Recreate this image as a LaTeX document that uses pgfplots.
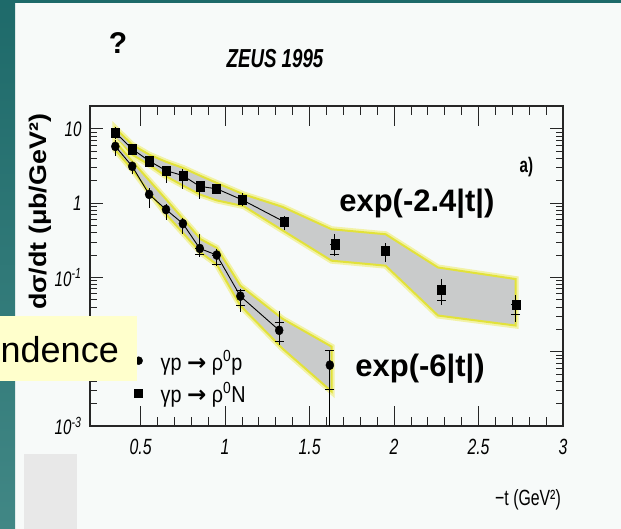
\documentclass[border=0pt]{standalone}
\usepackage{pgfplots}
\pgfplotsset{compat=1.18}
\usepackage{pgfplotstable}
\usepackage{fontspec}
\setmainfont{Liberation Sans}
\newfontfamily\narrow[FakeStretch=0.72]{Liberation Sans}
\newfontfamily\legfont[FakeStretch=0.86]{Liberation Sans}
\newfontfamily\wide[FakeStretch=1.12]{Liberation Sans}
\newfontfamily\dejavu{DejaVu Sans}

\definecolor{tealA}{HTML}{1E6A6A}
\definecolor{tealB}{HTML}{418785}
\definecolor{slidebg}{HTML}{F7FAF9}
\definecolor{bandfill}{HTML}{C9CBCB}
\definecolor{bandedge}{HTML}{E2E23A}
\definecolor{notebox}{HTML}{FFFFCC}

% gamma p -> rho0 N (squares): t, dsigma/dt, total error up/down
\pgfplotstableread{
x    y      ep      em
0.35 8.9    1.8     1.5
0.45 5.35   0.5     0.5
0.55 3.7    0.35    0.35
0.65 2.74   0.45    0.9
0.75 2.35   0.55    0.8
0.85 1.68   0.2     0.55
0.95 1.56   0.25    0.22
1.10 1.11   0.27    0.2
1.35 0.56   0.11    0.12
1.65 0.28   0.10    0.085
1.95 0.228  0.066   0.068
2.28 0.068  0.027   0.026
2.72 0.0427 0.0153  0.0177
}\rhoN
% statistical error caps, squares
\pgfplotstableread{
x    y      ep     em
1.65 0.28   0      0.075
2.28 0.068  0      0.019
2.72 0.0427 0      0.0112
}\rhoNstat
% gamma p -> rho0 p (circles)
\pgfplotstableread{
x    y      ep      em
0.35 5.8    1.3     1.55
0.45 3.13   0.5     0.7
0.55 1.31   0.3     0.44
0.65 0.82   0.14    0.22
0.75 0.53   0.11    0.15
0.85 0.245  0.135   0.058
0.95 0.20   0.04    0.056
1.09 0.056  0.0138  0.022
1.32 0.0194 0.0164  0.0072
1.62 0.0066 0.0039  0.0061
}\rhoP
% statistical error caps, circles
\pgfplotstableread{
x    y      ep      em
0.85 0.245  0       0.04
0.95 0.20   0       0.05
1.09 0.056  0.0107  0.0142
1.32 0.0194 0.0057  0.0057
1.62 0.0066 0.0039  0.00346
}\rhoPstat

\begin{document}
\begin{tikzpicture}
\path[use as bounding box] (0pt,0pt) rectangle (621pt,529pt);
\clip (0pt,0pt) rectangle (621pt,529pt);
\fill[slidebg] (0pt,0pt) rectangle (621pt,529pt);
\shade[top color=tealA, bottom color=tealB] (0pt,0pt) rectangle (15pt,529pt);
\fill[tealA] (0pt,526pt) rectangle (621pt,529pt);
\fill[gray!18] (24pt,0pt) rectangle (77pt,75pt);

\begin{axis}[
  at={(90pt,103pt)}, anchor=south west,
  scale only axis, width=473pt, height=320pt,
  ymode=log,
  xmin=0.2, xmax=3, ymin=1e-3, ymax=20.3,
  axis line style={line width=1.1pt, black!85},
  xtick={0.5,1,1.5,2,2.5,3},
  xticklabels={0.5,1,1.5,2,2.5,3},
  minor x tick num=4,
  ytick={0.001,0.01,0.1,1,10},
  yticklabels={10\textsuperscript{-3},{},10\textsuperscript{-1},1,10},
  xtick pos=both, ytick pos=both,
  xticklabel pos=lower, yticklabel pos=left,
  xtick style={line width=0.9pt, black!85, /pgfplots/major tick length=20pt, /pgfplots/minor tick length=9pt},
  ytick style={line width=0.9pt, black!85, /pgfplots/major tick length=13pt, /pgfplots/minor tick length=7pt},
  xticklabel style={font=\narrow\itshape\fontsize{22}{22}\selectfont, yshift=-10pt},
  yticklabel style={font=\narrow\itshape\fontsize{21}{21}\selectfont, xshift=-5pt},
  ylabel={dσ/dt (μb/GeV²)},
  ylabel style={at={(axis description cs:-0.106,0.669)}, anchor=center,
    font=\wide\bfseries\fontsize{24}{24}\selectfont},
  xlabel={−t (GeV²)},
  xlabel style={at={(axis description cs:0.926,-0.231)}, anchor=center,
    font=\narrow\fontsize{22}{22}\selectfont},
  legend style={at={(axis description cs:0.094,0.245)}, anchor=north west,
    draw=none, fill=none, inner sep=0pt, row sep=7pt, column sep=16pt,
    font=\legfont\fontsize{23}{25}\selectfont},
  legend cell align=left,
]
% systematic bands
\addplot[draw=bandedge!45, line width=6pt, forget plot] coordinates {
 (0.35,10.2)(0.45,6.1)(0.55,4.5)(0.65,3.6)(0.75,2.98)(0.85,2.35)(0.95,1.87)
 (1.11,1.31)(1.34,0.89)(1.63,0.445)(1.95,0.381)(2.26,0.136)(2.72,0.095)
 (2.72,0.0225)(2.26,0.0307)(1.95,0.144)(1.63,0.168)(1.34,0.43)(1.11,0.91)
 (0.95,1.09)(0.85,1.31)(0.75,1.73)(0.65,2.3)(0.55,3.3)(0.45,4.5)(0.35,7.5)} -- cycle;
\addplot[fill=bandfill, draw=bandedge, line width=2pt, forget plot] coordinates {
 (0.35,10.2)(0.45,6.1)(0.55,4.5)(0.65,3.6)(0.75,2.98)(0.85,2.35)(0.95,1.87)
 (1.11,1.31)(1.34,0.89)(1.63,0.445)(1.95,0.381)(2.26,0.136)(2.72,0.095)
 (2.72,0.0225)(2.26,0.0307)(1.95,0.144)(1.63,0.168)(1.34,0.43)(1.11,0.91)
 (0.95,1.09)(0.85,1.31)(0.75,1.73)(0.65,2.3)(0.55,3.3)(0.45,4.5)(0.35,7.5)} -- cycle;
\addplot[draw=bandedge!45, line width=6pt, forget plot] coordinates {
 (0.35,6.7)(0.45,3.65)(0.66,1.06)(0.855,0.327)(0.95,0.25)(1.09,0.0775)(1.34,0.0277)(1.63,0.0117)
 (1.63,0.00292)(1.34,0.011)(1.09,0.0418)(0.95,0.15)(0.855,0.217)(0.66,0.67)(0.45,2.83)(0.35,5.2)} -- cycle;
\addplot[fill=bandfill, draw=bandedge, line width=2pt, forget plot] coordinates {
 (0.35,6.7)(0.45,3.65)(0.66,1.06)(0.855,0.327)(0.95,0.25)(1.09,0.0775)(1.34,0.0277)(1.63,0.0117)
 (1.63,0.00292)(1.34,0.011)(1.09,0.0418)(0.95,0.15)(0.855,0.217)(0.66,0.67)(0.45,2.83)(0.35,5.2)} -- cycle;

% connecting lines
\addplot[black, line width=0.9pt, mark=none, forget plot]
  table[x=x, y=y, skip coords between index={9}{13}] {\rhoN};
\addplot[black, line width=0.9pt, mark=none, forget plot]
  table[x=x, y=y, skip coords between index={9}{10}] {\rhoP};

% data points with total errors
\addplot[only marks, mark=square*, mark size=4pt, black,
  mark options={yscale=1.2}, forget plot,
  error bars/.cd, y dir=both, y explicit, error mark=none,
  error bar style={line width=1pt, black}]
  table[x=x, y=y, y error plus=ep, y error minus=em] {\rhoN};
\addplot[only marks, mark=*, mark size=4pt, black,
  mark options={yscale=1.15}, forget plot,
  error bars/.cd, y dir=both, y explicit, error mark=none,
  error bar style={line width=1pt, black}]
  table[x=x, y=y, y error plus=ep, y error minus=em] {\rhoP};

% statistical error caps
\addplot[only marks, mark=none, forget plot,
  error bars/.cd, y dir=both, y explicit,
  error bar style={line width=1pt, black},
  error mark options={rotate=90, mark size=4.5pt, line width=1pt, black}]
  table[x=x, y=y, y error plus=ep, y error minus=em] {\rhoNstat};
\addplot[only marks, mark=none, forget plot,
  error bars/.cd, y dir=both, y explicit,
  error bar style={line width=1pt, black},
  error mark options={rotate=90, mark size=4.5pt, line width=1pt, black}]
  table[x=x, y=y, y error plus=ep, y error minus=em] {\rhoPstat};

\addlegendimage{only marks, mark=*, mark size=4pt, black}
\addlegendentry{γp {\dejavu\bfseries →} ρ\textsuperscript{0}p}
\addlegendimage{only marks, mark=square*, mark size=4pt, black}
\addlegendentry{γp {\dejavu\bfseries →} ρ\textsuperscript{0}N}

\node[anchor=base, inner sep=0pt, font=\bfseries\fontsize{31}{31}\selectfont]
  at (axis cs:2.135,0.78) {exp(-2.4|t|)};
\node[anchor=base, inner sep=0pt, font=\bfseries\fontsize{31}{31}\selectfont]
  at (axis cs:2.154,0.0046) {exp(-6|t|)};
\node[inner sep=0pt, font=\narrow\bfseries\fontsize{21}{21}\selectfont]
  at (axis cs:2.783,3.1) {a)};
\end{axis}

\node[font=\bfseries\fontsize{30}{30}\selectfont] at (118pt,486pt) {?};
\node[font=\narrow\bfseries\itshape\fontsize{26}{26}\selectfont] at (275pt,470pt) {ZEUS 1995};

\fill[notebox] (0pt,148pt) rectangle (137pt,213pt);
\node[anchor=base east, inner sep=0pt, font=\fontsize{36}{36}\selectfont]
  at (119pt,166pt) {ndence};
\end{tikzpicture}
\end{document}
